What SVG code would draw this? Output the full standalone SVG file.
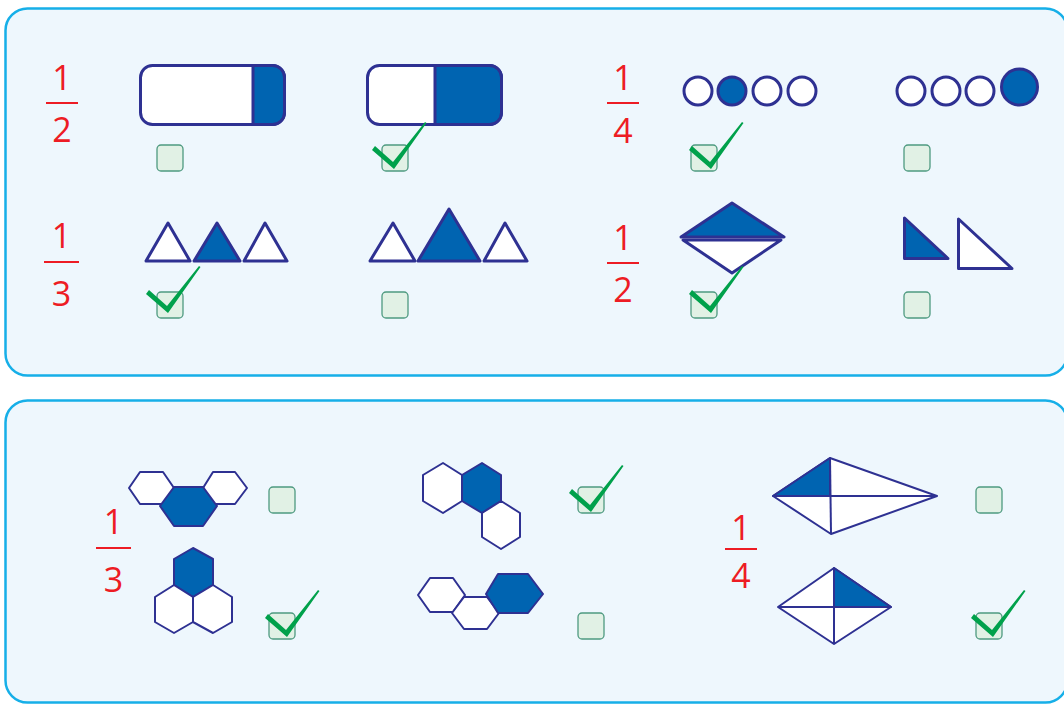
<svg xmlns="http://www.w3.org/2000/svg" xmlns:xlink="http://www.w3.org/1999/xlink" width="1064" height="705" viewBox="0 0 1064 705">
<style>
.panel{fill:#eef7fd;stroke:#16afe8;stroke-width:2.5}
.num{font-family:"Open Sans","Liberation Sans",sans-serif;font-size:34px;fill:#ed1c24;text-anchor:middle}
.bar{stroke:#ed1c24;stroke-width:2}
.w{fill:#ffffff;stroke:#2e3192;stroke-width:3;stroke-linejoin:round}
.b{fill:#0064b1;stroke:#2e3192;stroke-width:3;stroke-linejoin:round}
.wt{fill:#ffffff;stroke:#2e3192;stroke-width:2;stroke-linejoin:round}
.bt{fill:#0064b1;stroke:#2e3192;stroke-width:2;stroke-linejoin:round}
.ln{stroke:#2e3192;stroke-width:2;fill:none}
.ln3{stroke:#2e3192;stroke-width:3;fill:none}
.box{fill:#e1f1e5;stroke:#4e9a80;stroke-width:1.3}
.chk{fill:#00a14b}
</style>
<defs>
<rect id="cb" class="box" x="0" y="0" width="26" height="26" rx="4"/>
<path id="check" class="chk" d="M-21,-17 L-18,-21 L0,-5 L32,-45 L33.5,-44 L1,2 Z"/>
</defs>

<g id="panel-top"><rect class="panel" x="5.5" y="8.5" width="1062" height="367" rx="22"/></g>
<g id="panel-bottom"><rect class="panel" x="5.5" y="400.5" width="1062" height="302" rx="22"/></g>

<g id="frac-half-1">
<text class="num" x="62" y="90">1</text><line class="bar" x1="46" y1="103" x2="78" y2="103"/><text class="num" x="62" y="142">2</text>
</g>
<g id="frac-quarter-1">
<text class="num" x="623" y="90">1</text><line class="bar" x1="607" y1="103" x2="639" y2="103"/><text class="num" x="623" y="143">4</text>
</g>
<g id="frac-third-1">
<text class="num" x="61.5" y="248">1</text><line class="bar" x1="44" y1="262" x2="79" y2="262"/><text class="num" x="61.5" y="306">3</text>
</g>
<g id="frac-half-2">
<text class="num" x="623" y="250">1</text><line class="bar" x1="607" y1="263" x2="639" y2="263"/><text class="num" x="623" y="302">2</text>
</g>
<g id="frac-third-2">
<text class="num" x="113.5" y="534">1</text><line class="bar" x1="96" y1="548" x2="131" y2="548"/><text class="num" x="113.5" y="592">3</text>
</g>
<g id="frac-quarter-2">
<text class="num" x="741" y="540">1</text><line class="bar" x1="725" y1="549" x2="757" y2="549"/><text class="num" x="741" y="588">4</text>
</g>

<g id="bar-a">
<rect class="w" x="140.5" y="65.5" width="144" height="59" rx="12"/>
<path class="b" d="M253,65.5 H272.5 A12,12 0 0 1 284.5,77.5 V112.5 A12,12 0 0 1 272.5,124.5 H253 Z"/>
</g>
<g id="bar-b">
<rect class="w" x="367.5" y="65.5" width="134" height="59" rx="12"/>
<path class="b" d="M435,65.5 H489.5 A12,12 0 0 1 501.5,77.5 V112.5 A12,12 0 0 1 489.5,124.5 H435 Z"/>
</g>

<g id="circles-a">
<circle class="w" cx="698" cy="91" r="14"/><circle class="b" cx="732" cy="91" r="14"/><circle class="w" cx="767" cy="91" r="14"/><circle class="w" cx="802" cy="91" r="14"/>
</g>
<g id="circles-b">
<circle class="w" cx="911" cy="91" r="14"/><circle class="w" cx="946" cy="91" r="14"/><circle class="w" cx="980" cy="91" r="14"/><circle class="b" cx="1019.5" cy="87" r="18"/>
</g>

<g id="triangles-a">
<polygon class="w" points="146,261 168,223 190,261"/>
<polygon class="b" points="194,261 217,223 240,261"/>
<polygon class="w" points="244,261 265,223 287,261"/>
</g>
<g id="triangles-b">
<polygon class="w" points="370,261 393,223 415,261"/>
<polygon class="b" points="418,261 449,209 480,261"/>
<polygon class="w" points="484,261 505,223 527,261"/>
</g>

<g id="diamond">
<polygon class="b" points="681,237 732,203 784,237"/>
<polygon class="w" points="683,240 781,240 732,273"/>
</g>
<g id="right-triangles">
<polygon class="b" points="904.5,218 904.5,258.5 948,258.5"/>
<polygon class="w" points="958.5,219 958.5,268.5 1012,268.5"/>
</g>

<g id="hex-row">
<polygon class="wt" points="129,488 140,472 163,472 174,488 163,504 140,504"/>
<polygon class="wt" points="203,488 213,472 235,472 247,488 235,504 213,504"/>
<polygon class="bt" points="160,506 174,487 203,487 217,506 203,526 174,526"/>
</g>
<g id="hex-cluster">
<polygon class="bt" points="193,548 213,559 213,585 193,597 174,585 174,559"/>
<polygon class="wt" points="174,585 193,597 193,622 174,633 155,622 155,597"/>
<polygon class="wt" points="213,585 232,597 232,622 213,633 193,622 193,597"/>
</g>
<g id="hex-diagonal">
<polygon class="wt" points="443,463 462,475 462,501 443,513 423,501 423,475"/>
<polygon class="bt" points="482,463 501,475 501,501 482,513 462,501 462,475"/>
<polygon class="wt" points="501,501 520,513 520,537 501,549 482,537 482,513"/>
</g>
<g id="hex-chain">
<polygon class="wt" points="418,595 430,578 453,578 465,595 453,612 430,612"/>
<polygon class="wt" points="452,613 464,597 487,597 499,613 487,629 464,629"/>
<polygon class="bt" points="486,594 498,574 528,574 543,594 528,613 498,613"/>
</g>

<g id="kite">
<polygon class="wt" points="773,496 830,458 937,496 831,534"/>
<polygon class="bt" points="773,496 830,458 830,496"/>
<line class="ln" x1="773" y1="496" x2="937" y2="496"/>
<line class="ln" x1="830" y1="458" x2="831" y2="534"/>
</g>
<g id="rhombus">
<polygon class="wt" points="778,607 834,568 891,607 834,644"/>
<polygon class="bt" points="834,568 891,607 834,607"/>
<line class="ln" x1="778" y1="607" x2="891" y2="607"/>
<line class="ln" x1="834" y1="568" x2="834" y2="644"/>
</g>

<g id="checkboxes">
<use xlink:href="#cb" x="157" y="145"/><use xlink:href="#cb" x="382" y="145"/><use xlink:href="#cb" x="691" y="145"/><use xlink:href="#cb" x="904" y="145"/>
<use xlink:href="#cb" x="157" y="292"/><use xlink:href="#cb" x="382" y="292"/><use xlink:href="#cb" x="691" y="292"/><use xlink:href="#cb" x="904" y="292"/>
<use xlink:href="#cb" x="269" y="487"/><use xlink:href="#cb" x="269" y="613"/><use xlink:href="#cb" x="578" y="487"/><use xlink:href="#cb" x="578" y="613"/>
<use xlink:href="#cb" x="976" y="487"/><use xlink:href="#cb" x="976" y="613"/>
</g>
<g id="checks">
<use xlink:href="#check" x="393" y="167"/>
<use xlink:href="#check" x="710" y="167"/>
<use xlink:href="#check" x="167" y="311"/>
<use xlink:href="#check" x="710" y="311"/>
<use xlink:href="#check" x="286" y="635"/>
<use xlink:href="#check" x="590" y="510"/>
<use xlink:href="#check" x="992" y="635"/>
</g>
</svg>
